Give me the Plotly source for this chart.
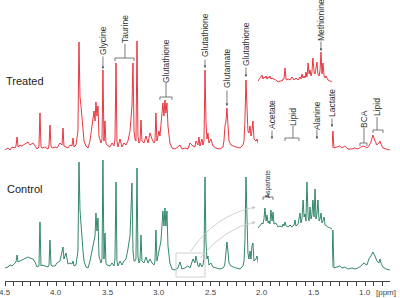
import plotly.graph_objects as go

# ---------------- data ----------------
# chemical shift grid (ppm) shared by both full spectra
ppm = [4.500, 4.471, 4.451, 4.432, 4.403, 4.393, 4.383, 4.373, 4.354, 4.335,
       4.306, 4.276, 4.257, 4.228, 4.208, 4.189, 4.170, 4.160, 4.150, 4.140,
       4.111, 4.082, 4.072, 4.063, 4.053, 4.043, 4.014, 3.995, 3.966, 3.946,
       3.936, 3.927, 3.907, 3.888, 3.868, 3.849, 3.839, 3.829, 3.810, 3.791,
       3.781, 3.771, 3.761, 3.752, 3.742, 3.732, 3.713, 3.693, 3.674, 3.655,
       3.635, 3.625, 3.616, 3.606, 3.596, 3.587, 3.567, 3.557, 3.548, 3.538,
       3.528, 3.519, 3.509, 3.480, 3.460, 3.441, 3.431, 3.421, 3.412, 3.402,
       3.382, 3.363, 3.344, 3.324, 3.305, 3.285, 3.276, 3.266, 3.256, 3.246,
       3.237, 3.227, 3.217, 3.208, 3.198, 3.188, 3.178, 3.169, 3.149, 3.130,
       3.110, 3.091, 3.071, 3.052, 3.042, 3.033, 3.023, 3.003, 2.994, 2.984,
       2.965, 2.955, 2.945, 2.936, 2.926, 2.916, 2.897, 2.877, 2.848, 2.819,
       2.799, 2.780, 2.751, 2.722, 2.702, 2.673, 2.654, 2.644, 2.624, 2.615,
       2.605, 2.586, 2.576, 2.566, 2.556, 2.547, 2.537, 2.527, 2.518, 2.498,
       2.479, 2.450, 2.411, 2.382, 2.372, 2.362, 2.352, 2.343, 2.333, 2.323,
       2.304, 2.284, 2.255, 2.216, 2.187, 2.177, 2.168, 2.158, 2.148, 2.139,
       2.129, 2.119, 2.109, 2.100, 2.090, 2.080, 2.061, 2.051, 2.032, 2.002,
       1.964, 1.934, 1.915, 1.905, 1.896, 1.866, 1.828, 1.798, 1.779, 1.760,
       1.740, 1.711, 1.692, 1.662, 1.633, 1.594, 1.555, 1.517, 1.487, 1.477,
       1.468, 1.458, 1.429, 1.400, 1.380, 1.342, 1.322, 1.313, 1.303, 1.274,
       1.245, 1.225, 1.196, 1.167, 1.128, 1.099, 1.070, 1.041, 1.011, 0.982,
       0.963, 0.943, 0.924, 0.904, 0.885, 0.866, 0.856, 0.846, 0.827, 0.797,
       0.759, 0.710]

treated = [1, 3, 1, 4, 3, 5, 14, 4, 6, 5,
           7, 9, 6, 8, 5, 2, 4, 38, 4, 3,
           4, 2, 6, 26, 5, 3, 4, 3, 8, 6,
           23, 5, 4, 3, 6, 5, 13, 4, 6, 20,
           109, 54, 45, 35, 25, 10, 5, 3, 10, 25,
           40, 30, 49, 35, 45, 15, 8, 12, 81, 10,
           30, 8, 6, 4, 8, 5, 12, 88, 10, 4,
           12, 4, 8, 6, 10, 20, 30, 45, 88, 20,
           12, 10, 110, 15, 8, 10, 31, 10, 8, 15,
           8, 18, 12, 8, 10, 38, 10, 20, 15, 30,
           48, 35, 51, 38, 48, 25, 8, 3, 2, 4,
           6, 2, 3, 2, 8, 5, 4, 10, 6, 14,
           5, 12, 6, 10, 81, 30, 12, 18, 8, 12,
           5, 3, 2, 4, 10, 25, 30, 43, 25, 10,
           6, 5, 4, 3, 6, 10, 30, 71, 35, 20,
           18, 25, 15, 20, 30, 12, 10, 12, 5, 3,
           4, 3, 2, 9, 2, 3, 2, 5, 9, 5,
           4, 8, 5, 2, 2, 3, 2, 3, 4, 3,
           9, 3, 4, 6, 5, 2, 3, 20, 3, 4,
           5, 3, 5, 2, 2, 3, 2, 4, 5, 3,
           5, 9, 16, 10, 6, 8, 10, 7, 3, 2,
           1, 1]

control = [3, 4, 6, 5, 8, 9, 16, 9, 10, 11,
           12, 14, 13, 12, 9, 4, 5, 49, 5, 6,
           5, 4, 6, 31, 6, 5, 5, 8, 10, 20,
           24, 12, 18, 7, 8, 7, 10, 5, 6, 20,
           109, 61, 45, 30, 20, 10, 4, 3, 10, 20,
           30, 35, 58, 40, 53, 15, 8, 12, 111, 12,
           38, 8, 6, 5, 8, 5, 12, 89, 10, 5,
           10, 6, 10, 12, 22, 35, 60, 88, 20, 10,
           10, 12, 103, 15, 8, 10, 36, 10, 8, 14,
           8, 12, 8, 6, 10, 41, 10, 20, 25, 30,
           60, 45, 63, 45, 60, 25, 8, 2, 1, 3,
           9, 2, 3, 5, 3, 12, 8, 15, 5, 4,
           8, 4, 6, 12, 94, 30, 12, 15, 6, 8,
           4, 3, 2, 3, 4, 8, 20, 29, 20, 8,
           5, 4, 3, 2, 5, 10, 30, 94, 35, 18,
           12, 20, 12, 25, 28, 10, 12, 15, 5, 3,
           4, 3, 3, 14, 3, 3, 3, 6, 9, 5,
           4, 10, 5, 3, 3, 4, 3, 4, 5, 4,
           15, 4, 5, 9, 7, 3, 4, 41, 3, 4,
           5, 3, 4, 2, 3, 2, 3, 5, 8, 6,
           12, 15, 19, 15, 10, 8, 12, 8, 4, 2,
           1, 1]

# expanded region (insets), ppm grid
inset_ppm = [2.860, 2.852, 2.843, 2.839, 2.835, 2.831, 2.826, 2.822, 2.818, 2.814,
             2.810, 2.806, 2.801, 2.797, 2.793, 2.785, 2.776, 2.768, 2.759, 2.755,
             2.751, 2.747, 2.742, 2.734, 2.726, 2.718, 2.709, 2.705, 2.701, 2.692,
             2.684, 2.680, 2.676, 2.671, 2.667, 2.663, 2.659, 2.655, 2.650, 2.646,
             2.642, 2.638, 2.634, 2.630, 2.625, 2.621, 2.617, 2.613, 2.609, 2.604,
             2.600, 2.596, 2.592, 2.588, 2.583, 2.579, 2.575, 2.567, 2.558, 2.550]
treated_inset = [1, 4, 7, 3, 5, 4, 6, 3, 5, 4,
                 6, 3, 4, 3, 3, 2, 0, 1, 1, 3,
                 3, 14, 2, 3, 2, 5, 2, 3, 4, 2,
                 5, 3, 8, 4, 6, 4, 10, 5, 19, 8,
                 12, 6, 10, 24, 10, 8, 14, 20, 8, 6,
                 12, 30, 8, 19, 6, 4, 6, 2, 1, 0]
control_inset = [1, 3, 6, 5, 10, 21, 8, 14, 6, 8,
                 5, 19, 8, 17, 5, 6, 2, 3, 2, 5,
                 3, 7, 3, 2, 4, 2, 4, 9, 3, 5,
                 16, 6, 10, 29, 12, 15, 8, 47, 12, 8,
                 22, 10, 14, 29, 12, 40, 10, 15, 29, 8,
                 10, 16, 6, 8, 12, 4, 3, 2, 1, 0]

tick_labels = [4.5, 4.0, 3.5, 3.0, 2.5, 2.0, 1.5, 1.0]

RED = "#e5222c"
GREEN = "#1f7a5a"
FONT = "Arial, Liberation Sans, sans-serif"

# vertical offsets of each trace (position only)
OFF_T, OFF_C, OFF_TI, OFF_CI = 130, 10, 199, 52
PLOT_H = 281

fig = go.Figure()
fig.add_trace(go.Scatter(x=ppm, y=[v + OFF_T for v in treated], mode="lines",
                         line=dict(color=RED, width=0.9), hoverinfo="skip"))
fig.add_trace(go.Scatter(x=ppm, y=[v + OFF_C for v in control], mode="lines",
                         line=dict(color=GREEN, width=0.9), hoverinfo="skip"))
fig.add_trace(go.Scatter(x=inset_ppm, y=[v + OFF_TI for v in treated_inset], mode="lines",
                         xaxis="x2", yaxis="y", line=dict(color=RED, width=0.9), hoverinfo="skip"))
fig.add_trace(go.Scatter(x=inset_ppm, y=[v + OFF_CI for v in control_inset], mode="lines",
                         xaxis="x2", yaxis="y", line=dict(color=GREEN, width=0.9), hoverinfo="skip"))

ann = []
shapes = []
TXT = "#333"
LC = "#444"


def vlabel(text, x, y, size=8.5):
    ann.append(dict(x=x, y=y, xref="x", yref="y", text=text, showarrow=False, textangle=-90,
                    font=dict(family=FONT, size=size, color=TXT)))


def arrow(x, y_tail, y_head):
    ann.append(dict(x=x, y=y_head, ax=x, ay=y_tail, xref="x", yref="y", axref="x", ayref="y",
                    text="", showarrow=True, arrowhead=2, arrowsize=0.7, arrowwidth=0.7,
                    arrowcolor=LC))


def line(x0, y0, x1, y1, color=LC, w=0.7):
    shapes.append(dict(type="line", x0=x0, y0=y0, x1=x1, y1=y1, xref="x", yref="y",
                       line=dict(color=color, width=w)))


def bracket(xc, y_top, y_br, xl, xr, drop=3):
    line(xc, y_top, xc, y_br)
    line(xl, y_br, xr, y_br)
    line(xl, y_br, xl, y_br - drop)
    line(xr, y_br, xr, y_br - drop)


vlabel("Glycine", 3.548, 241); arrow(3.548, 226, 212)
vlabel("Taurine", 3.334, 252); bracket(3.334, 237, 223, 3.431, 3.246)
vlabel("Glutathione", 2.935, 220); bracket(2.935, 198, 184, 2.994, 2.877)
vlabel("Glutathione", 2.556, 246); arrow(2.556, 223, 213)
vlabel("Glutamate", 2.343, 213); arrow(2.343, 192, 175)
vlabel("Glutathione", 2.158, 237); arrow(2.158, 215, 204)
vlabel("Methionine", 1.429, 261); arrow(1.429, 241, 230)
vlabel("Acetate", 1.905, 167); arrow(1.905, 152, 142)
vlabel("Lipid", 1.701, 164); bracket(1.701, 155, 143, 1.779, 1.643)
vlabel("Alanine", 1.468, 166); arrow(1.468, 153, 142)
vlabel("Lactate", 1.322, 178); arrow(1.322, 164, 154)
vlabel("BCA", 1.011, 162); bracket(1.011, 153, 138, 1.050, 0.982)
vlabel("Lipid", 0.884, 174); bracket(0.884, 164, 151, 0.923, 0.826)
vlabel("Aspartate", 1.944, 97, size=6.5); bracket(1.944, 88, 84, 1.992, 1.895)

ann.append(dict(x=4.301, y=200, xref="x", yref="y", text="Treated", showarrow=False,
                font=dict(family=FONT, size=11, color="#222")))
ann.append(dict(x=4.306, y=92, xref="x", yref="y", text="Control", showarrow=False,
                font=dict(family=FONT, size=11, color="#222")))

# tick labels and unit (placed below the axis, paper y)
YL = -11 / PLOT_H
for v in tick_labels:
    ann.append(dict(x=v, y=YL, xref="x", yref="paper", text=f"{v:.1f}", showarrow=False,
                    yanchor="middle", font=dict(family=FONT, size=8, color="#444")))
ann.append(dict(x=0.80, y=YL, xref="x", yref="paper", text="[ppm]", showarrow=False,
                yanchor="middle", font=dict(family=FONT, size=8, color="#444")))

# zoom box and curved guide arrows
GREY = "#c4c4c4"
shapes.append(dict(type="rect", x0=2.838, x1=2.556, y0=4, y1=28, xref="x", yref="y",
                   line=dict(color=GREY, width=0.8)))
shapes.append(dict(type="path", path="M 2.702,29 Q 2.459,66 2.070,74", xref="x", yref="y",
                   line=dict(color=GREY, width=0.8)))
shapes.append(dict(type="path", path="M 2.605,23 Q 2.362,53 2.070,59", xref="x", yref="y",
                   line=dict(color=GREY, width=0.8)))
for yy in (74, 59):
    ann.append(dict(x=2.065, y=yy, ax=2.11, ay=yy - 1.5, xref="x", yref="y", axref="x", ayref="y",
                    text="", showarrow=True, arrowhead=2, arrowsize=0.8, arrowwidth=0.8,
                    arrowcolor=GREY))

W, ML, MR = 400, 5, 10
fig.update_layout(
    width=W, height=298, margin=dict(l=ML, r=MR, t=0, b=17),
    paper_bgcolor="white", plot_bgcolor="white", showlegend=False,
    xaxis=dict(range=[4.5, 0.758], showline=True, linecolor=LC, linewidth=0.8,
               ticks="outside", ticklen=4, tickwidth=0.7, tickcolor=LC,
               tick0=0, dtick=0.5, showticklabels=False, showgrid=False, zeroline=False,
               minor=dict(ticks="outside", ticklen=4, tickwidth=0.7, tickcolor=LC,
                          tick0=0, dtick=0.5 / 6, showgrid=False)),
    xaxis2=dict(range=[2.86, 2.55], domain=[(258 - ML) / (W - ML - MR), (332 - ML) / (W - ML - MR)],
                anchor="y", visible=False, showgrid=False, zeroline=False),
    yaxis=dict(range=[0, PLOT_H], visible=False, showgrid=False, zeroline=False),
    annotations=ann, shapes=shapes,
)

fig.write_html("out.html", config={"displayModeBar": False},
               post_script="document.body.style.margin='0';document.body.style.overflow='hidden';")
